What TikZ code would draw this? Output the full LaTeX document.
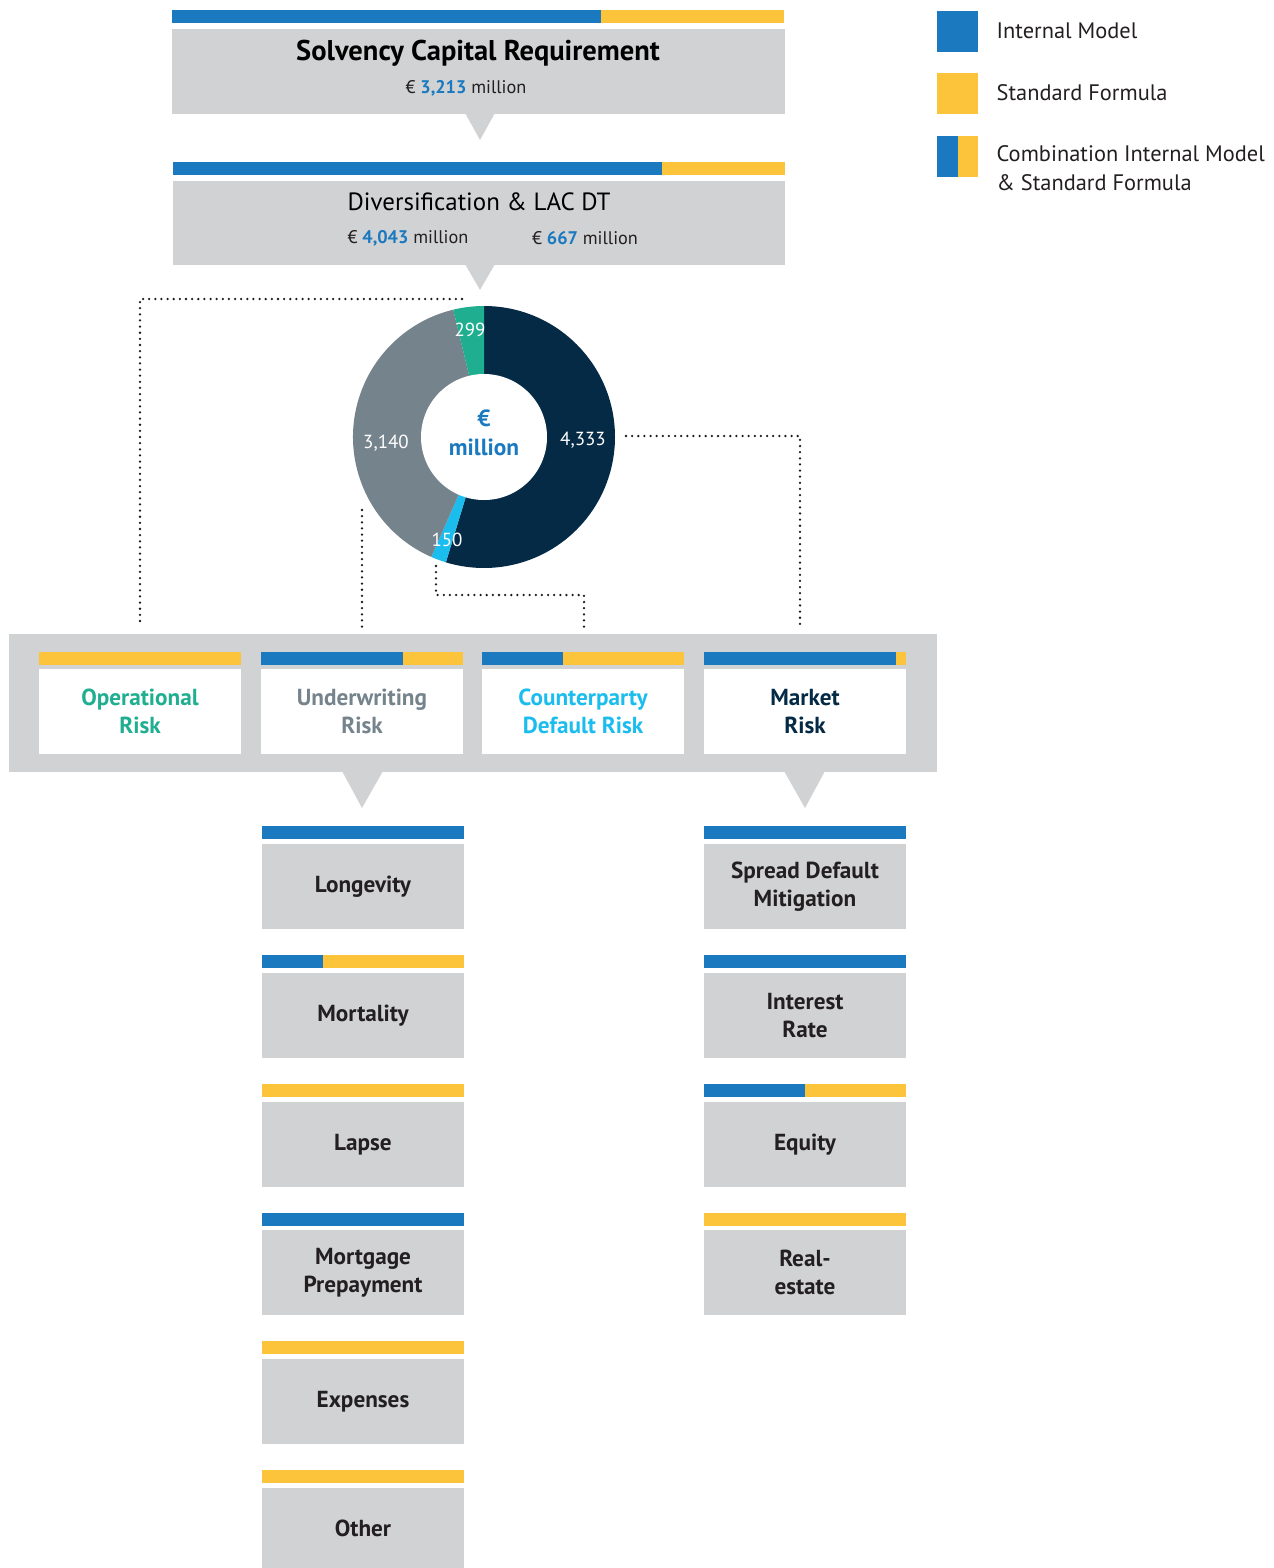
\documentclass[tikz,border=0pt]{standalone}
\usepackage{fontspec}
\setmainfont{PT Sans}
\usetikzlibrary{positioning}

\definecolor{imblue}{HTML}{1A79BF}
\definecolor{sfyellow}{HTML}{FBC43B}
\definecolor{panelgrey}{HTML}{D1D2D4}
\definecolor{mktnavy}{HTML}{052A45}
\definecolor{uwgrey}{HTML}{75838C}
\definecolor{opgreen}{HTML}{1FAE90}
\definecolor{cdblue}{HTML}{1BBDEE}
\definecolor{labeltext}{HTML}{231F20}

% bar on top of a box: left, split, right, top
\newcommand{\twobar}[4]{%
  \fill[imblue] (#1,#4) rectangle (#2,#4+13);
  \fill[sfyellow] (#2,#4) rectangle (#3,#4+13);}

\tikzset{
  greybox/.style={fill=panelgrey, inner sep=0pt, minimum width=202*0.75pt, minimum height=85*0.75pt},
  whitebox/.style={fill=white, inner sep=0pt, minimum width=202*0.75pt, minimum height=85*0.75pt},
  boxlabel/.style={align=center, font=\fontsize{17.4}{21}\selectfont\bfseries},
  sublabel/.style={boxlabel, text=labeltext},
  amount/.style={font=\fontsize{13.7}{15}\selectfont, text=labeltext},
  pielabel/.style={font=\fontsize{14.2}{15}\selectfont, text=white},
  legtext/.style={anchor=west, align=left, font=\fontsize{16.8}{21.75}\selectfont, text=labeltext},
  dotline/.style={line width=1.9pt, line cap=round, dash pattern=on 0pt off 4.6pt, black!90},
}

\begin{document}
\begin{tikzpicture}[x=0.75pt, y=-0.75pt]
\useasboundingbox (0,0) rectangle (1274,1568);

% Solvency Capital Requirement
\twobar{172}{601}{784}{10}
\node[greybox, minimum width=613*0.75pt] (scr) at (478.5,71.5) {};
\fill[panelgrey] (465,113) -- (480,140) -- (495,113) -- cycle;
\node[font=\fontsize{21.4}{24}\selectfont\bfseries] (scrtitle) at (478,53) {Solvency Capital Requirement};
\node[amount] (scrvalue) at (466,88) {€ \textbf{\color{imblue}3,213} million};

% Diversification
\twobar{173}{662}{785}{162}
\node[greybox, minimum width=612*0.75pt, minimum height=84*0.75pt] (div) at (479,223) {};
\fill[panelgrey] (465,264) -- (480,290) -- (495,264) -- cycle;
\node[font=\fontsize{18.7}{22}\selectfont, text=black] (divtitle) at (479,202) {Diversification \& LAC DT};
\node[amount] (divvalue) at (408,238) {€ \textbf{\color{imblue}4,043} million};
\node[amount] (lacvalue) at (585,238) {€ \textbf{\color{imblue}667} million};

% donut
\coordinate (pie) at (484,437);
\fill[mktnavy] (pie) -- ++(-90:131) arc[start angle=-90, end angle=106.91, radius=131] -- cycle;
\fill[cdblue] (pie) -- ++(106.91:131) arc[start angle=106.91, end angle=113.73, radius=131] -- cycle;
\fill[uwgrey] (pie) -- ++(113.73:131) arc[start angle=113.73, end angle=256.42, radius=131] -- cycle;
\fill[opgreen] (pie) -- ++(256.42:131) arc[start angle=256.42, end angle=270, radius=131] -- cycle;
\fill[white] (pie) circle (63);
\node[align=center, text=imblue, font=\fontsize{17.5}{21.75}\selectfont\bfseries] (piecentre) at (484,433) {€\\million};
\node[pielabel] (oplabel) at (470,330) {299};
\node[pielabel] (mktlabel) at (583,440) {4,333};
\node[pielabel] (uwlabel) at (386,443) {3,140};
\node[pielabel] (cdlabel) at (447,540) {150};

% risk panel
\fill[panelgrey] (9,634) rectangle (937,772);
\fill[panelgrey] (342,771) -- (362,808) -- (383,771) -- cycle;
\fill[panelgrey] (784,771) -- (805,808) -- (825,771) -- cycle;
\twobar{39}{39}{241}{652}
\twobar{261}{403}{463}{652}
\twobar{482}{563}{684}{652}
\twobar{704}{896}{906}{652}
\node[whitebox] (op) at (140,711.5) {};
\node[whitebox] (uw) at (362,711.5) {};
\node[whitebox] (cd) at (583,711.5) {};
\node[whitebox] (mkt) at (805,711.5) {};
\node[boxlabel, text=opgreen] (optext) at (op) {Operational\\Risk};
\node[boxlabel, text=uwgrey] (uwtext) at (uw) {Underwriting\\Risk};
\node[boxlabel, text=cdblue] (cdtext) at (cd) {Counterparty\\Default Risk};
\node[boxlabel, text=mktnavy] (mkttext) at (mkt) {Market\\Risk};

% dotted connectors
\coordinate (opstart) at (462,299);
\coordinate (opend) at (140,627);
\coordinate (uwstart) at (362,510);
\coordinate (uwend) at (362,627);
\coordinate (cdstart) at (436,566);
\coordinate (cdend) at (584,627);
\coordinate (mktstart) at (626,436);
\coordinate (mktend) at (800,627);
\draw[dotline] (opstart) -| (opend);
\draw[dotline] (uwstart) -- (uwend);
\draw[dotline] (cdstart) |- (510,595) -| (cdend);
\draw[dotline] (mktstart) -| (mktend);

% underwriting sub-risks
\fill[imblue] (262,826) rectangle (464,839);
\node[greybox] (longev) at (363,886.5) {};
\node[sublabel] at (longev) {Longevity};
\twobar{262}{323}{464}{955}
\node[greybox] (mort) at (363,1015.5) {};
\node[sublabel] at (mort) {Mortality};
\twobar{262}{262}{464}{1084}
\node[greybox] (lapse) at (363,1144.5) {};
\node[sublabel] at (lapse) {Lapse};
\fill[imblue] (262,1213) rectangle (464,1226);
\node[greybox] (prepay) at (363,1272.5) {};
\node[sublabel] at (prepay) {Mortgage\\Prepayment};
\twobar{262}{262}{464}{1341}
\node[greybox] (expen) at (363,1401.5) {};
\node[sublabel] at (expen) {Expenses};
\twobar{262}{262}{464}{1470}
\node[greybox, minimum height=80*0.75pt] (other) at (363,1528) {};
\node[sublabel] at (other) {Other};

% market sub-risks
\fill[imblue] (704,826) rectangle (906,839);
\node[greybox] (spread) at (805,886.5) {};
\node[sublabel] at (spread) {Spread Default\\Mitigation};
\fill[imblue] (704,955) rectangle (906,968);
\node[greybox] (irate) at (805,1015.5) {};
\node[sublabel] at (irate) {Interest\\Rate};
\twobar{704}{805}{906}{1084}
\node[greybox] (equity) at (805,1144.5) {};
\node[sublabel] at (equity) {Equity};
\twobar{704}{704}{906}{1213}
\node[greybox] (realest) at (805,1272.5) {};
\node[sublabel] at (realest) {Real-\\estate};

% legend
\fill[imblue] (937,11) rectangle (978,52);
\fill[sfyellow] (937,73) rectangle (978,114);
\fill[imblue] (937,136) rectangle (958,177);
\fill[sfyellow] (958,136) rectangle (978,177);
\node[legtext] (legim) at (992,31) {Internal Model};
\node[legtext] (legsf) at (992,93) {Standard Formula};
\node[legtext] (legcomb) at (992,168.5) {Combination Internal Model\\\& Standard Formula};
\end{tikzpicture}
\end{document}
